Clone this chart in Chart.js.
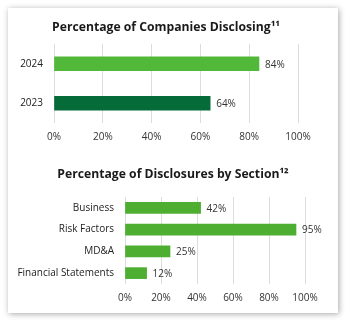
<!DOCTYPE html>
<html lang="en">
<head>
    <meta charset="UTF-8">
    <title>Disclosure Charts</title>
    <script src="https://cdn.jsdelivr.net/npm/chart.js"></script>
    <style>
        body {
            margin: 0;
            background: #fff;
            font-family: 'Open Sans', sans-serif;
        }
        .card {
            position: absolute;
            left: 8px;
            top: 8px;
            width: 330px;
            height: 305px;
            background: #fff;
            box-shadow: 1px 1px 6px rgba(0, 0, 0, 0.35);
        }
        .chart-box {
            position: absolute;
            left: 0;
            width: 347px;
        }
    </style>
</head>
<body>
    <div class="card"></div>
    <div class="chart-box" style="top:0;height:160px"><canvas id="yearChart"></canvas></div>
    <div class="chart-box" style="top:160px;height:161px"><canvas id="sectionChart"></canvas></div>

    <script>
        // Chart 1: companies disclosing
        const years = ['2024', '2023'];
        const yearValues = [84, 64];
        const yearColors = ['#52b83a', '#056b38'];

        // Chart 2: disclosures by section
        const sections = ['Business', 'Risk Factors', 'MD&A', 'Financial Statements'];
        const sectionValues = [42, 95, 25, 12];

        const percentTicks = [0, 20, 40, 60, 80, 100];

        Chart.defaults.font.family = "'Open Sans', sans-serif";
        Chart.defaults.color = '#333';

        // draws "84%" style labels just past the end of each bar
        const valueLabels = {
            id: 'valueLabels',
            afterDatasetsDraw(chart) {
                const ctx = chart.ctx;
                ctx.save();
                ctx.font = "10px 'Open Sans', sans-serif";
                ctx.fillStyle = '#333';
                ctx.textBaseline = 'middle';
                chart.getDatasetMeta(0).data.forEach((bar, i) => {
                    ctx.fillText(chart.data.datasets[0].data[i] + '%', bar.x + 6, bar.y + 1);
                });
                ctx.restore();
            }
        };

        // title centred on the card rather than on the canvas
        const cardTitle = {
            id: 'cardTitle',
            afterDraw(chart, args, o) {
                const ctx = chart.ctx;
                ctx.save();
                ctx.font = "bold 12.2px 'Open Sans', sans-serif";
                ctx.fillStyle = '#1a1a1a';
                ctx.textAlign = 'center';
                ctx.textBaseline = 'middle';
                ctx.fillText(o.text, o.x, o.y);
                ctx.restore();
            }
        };

        function makeChart(id, labels, values, colors, opts) {
            return new Chart(document.getElementById(id), {
                type: 'bar',
                data: {
                    labels: labels,
                    datasets: [{
                        data: values,
                        backgroundColor: colors,
                        barThickness: opts.barThickness
                    }]
                },
                plugins: [valueLabels, cardTitle],
                options: {
                    indexAxis: 'y',
                    responsive: true,
                    maintainAspectRatio: false,
                    animation: false,
                    layout: { padding: { left: 0, right: opts.right, top: opts.top, bottom: opts.bottom } },
                    plugins: {
                        legend: { display: false },
                        tooltip: { enabled: false },
                        title: { display: false },
                        cardTitle: { text: opts.title, x: opts.titleX, y: opts.titleY }
                    },
                    scales: {
                        x: {
                            min: 0,
                            max: 100,
                            afterBuildTicks: scale => {
                                scale.ticks = percentTicks.map(v => ({ value: v }));
                            },
                            ticks: {
                                padding: 8,
                                color: '#333',
                                font: { size: 10 },
                                callback: v => v + '%'
                            },
                            grid: { color: '#dcdcdc', drawTicks: false },
                            border: { display: false }
                        },
                        y: {
                            afterFit: scale => { scale.width = opts.axisWidth; },
                            ticks: { padding: 11, color: '#222', font: { size: 10 } },
                            grid: { display: false, drawTicks: false },
                            border: { display: false }
                        }
                    }
                }
            });
        }

        makeChart('yearChart', years, yearValues, yearColors, {
            title: 'Percentage of Companies Disclosing\u00b9\u00b9',
            titleX: 166,
            titleY: 28,
            barThickness: 14,
            axisWidth: 54,
            right: 49,
            top: 44,
            bottom: 9
        });

        makeChart('sectionChart', sections, sectionValues, '#4dae32', {
            title: 'Percentage of Disclosures by Section\u00b9\u00b2',
            titleX: 173,
            titleY: 15,
            barThickness: 11,
            axisWidth: 125,
            right: 42,
            top: 37,
            bottom: 9
        });
    </script>
</body>
</html>
